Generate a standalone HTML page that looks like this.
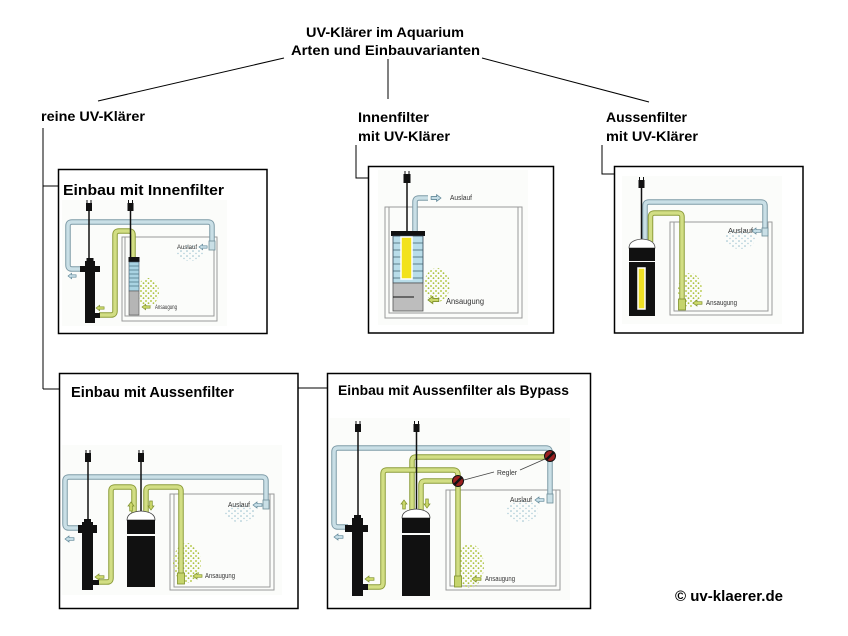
<!DOCTYPE html>
<html><head><meta charset="utf-8"><style>
html,body{margin:0;padding:0;background:#fff}
svg{display:block}
.t{font-family:"Liberation Sans",Arial,sans-serif;font-weight:bold;fill:#000}
.s{font-family:"Liberation Sans",Arial,sans-serif;fill:#333}
.bo{fill:none;stroke:#7e9ba7;stroke-width:5.5}
.bi{fill:none;stroke:#c9dfe6;stroke-width:3.5}
.go{fill:none;stroke:#8d9d3a;stroke-width:5.5}
.gi{fill:none;stroke:#d2de84;stroke-width:3.5}
.tk{fill:none;stroke:#9a9a9a;stroke-width:1}
.ba{fill:#c5dde6;stroke:#5d8596;stroke-width:.7}
.ga{fill:#cbd86a;stroke:#7d8f2a;stroke-width:.7}
.bn{fill:#c9dfe6;stroke:#6d8c98;stroke-width:.8}
.gn{fill:#c5d46c;stroke:#7d8f2a;stroke-width:.8}
.k{fill:#111}
.c{stroke:#111;stroke-width:1.5}
.bg{fill:#fbfcfa}
</style></head><body>
<svg width="848" height="636" viewBox="0 0 848 636" xmlns="http://www.w3.org/2000/svg">
<defs>
<path id="al" d="M0 0 L4 -3 L4 -1.3 L9 -1.3 L9 1.3 L4 1.3 L4 3 Z"/>
<pattern id="gd" width="5" height="5" patternUnits="userSpaceOnUse"><circle cx="1" cy="1" r="1" fill="#bccd55"/><circle cx="3.5" cy="3.2" r=".9" fill="#a9bf3f"/></pattern>
<pattern id="bd" width="6" height="5" patternUnits="userSpaceOnUse"><circle cx="1" cy="1" r=".8" fill="#94bccb"/><circle cx="4" cy="3.5" r=".7" fill="#a8c9d6"/></pattern>
<path id="p1b" d="M212 246 V226 Q212 222 208 222 H72 Q68 222 68 226 V265 Q68 269 72 269 H82"/>
<path id="p1g" d="M99 315 H111 Q115 315 115 311 V235 Q115 231 119 231 H129 Q133 231 133 235 V258"/>
<path id="p2b" d="M415 232 V202 Q415 198 419 198 H428"/>
<path id="p3b" d="M645 242 V206 Q645 202 649 202 H761 Q765 202 765 206 V230"/>
<path id="p3g" d="M650.5 242 V217 Q650.5 213 654.5 213 H678 Q682 213 682 217 V300"/>
<path id="p4b" d="M80 528 H69 Q65 528 65 524 V481 Q65 477 69 477 H262 Q266 477 266 481 V502"/>
<path id="p4g1" d="M99 582 H107 Q111 582 111 578 V491 Q111 487 115 487 H130 Q134 487 134 491 V513"/>
<path id="p4g2" d="M146 513 V491 Q146 487 150 487 H177 Q181 487 181 491 V575"/>
<path id="p5b" d="M348 527 H338 Q334 527 334 523 V452 Q334 448 338 448 H546 Q550 448 550 452 V496"/>
<path id="p5gA" d="M412 510 V461 Q412 457 416 457 H550"/>
<path id="p5gB" d="M365 587 H379 Q383 587 383 583 V474 Q383 470 387 470 H453 Q458 470 458 475 V578"/>
<path id="p5gC" d="M421 510 V485 Q421 481 425 481 H458"/>
</defs>

<!-- drawing backgrounds -->
<rect class="bg" x="62" y="200" width="165" height="126"/>
<rect class="bg" x="378" y="170" width="150" height="155"/>
<rect class="bg" x="622" y="176" width="160" height="148"/>
<rect class="bg" x="62" y="445" width="220" height="150"/>
<rect class="bg" x="330" y="418" width="240" height="182"/>

<!-- titles & connectors -->
<text class="t" x="306" y="37" font-size="14" textLength="158" lengthAdjust="spacingAndGlyphs">UV-Klärer im Aquarium</text>
<text class="t" x="291" y="55" font-size="14" textLength="189" lengthAdjust="spacingAndGlyphs">Arten und Einbauvarianten</text>
<g stroke="#000" stroke-width="1" fill="none">
<path d="M284 58 L98 101"/>
<path d="M388 59 V99"/>
<path d="M482 58 L649 102"/>
<path d="M43 128 V389 M43 186 H58 M43 389 H59"/>
<path d="M298 388 H327"/>
<path d="M356 145 V178 H368"/>
<path d="M602 145 V174 H614"/>
</g>
<text class="t" x="41" y="121" font-size="14" textLength="104" lengthAdjust="spacingAndGlyphs">reine UV-Klärer</text>
<text class="t" x="358" y="122" font-size="14" textLength="71" lengthAdjust="spacingAndGlyphs">Innenfilter</text>
<text class="t" x="358" y="141" font-size="14" textLength="92" lengthAdjust="spacingAndGlyphs">mit UV-Klärer</text>
<text class="t" x="606" y="122" font-size="14" textLength="81" lengthAdjust="spacingAndGlyphs">Aussenfilter</text>
<text class="t" x="606" y="141" font-size="14" textLength="92" lengthAdjust="spacingAndGlyphs">mit UV-Klärer</text>

<!-- boxes -->
<g fill="none" stroke="#000" stroke-width="1.5">
<rect x="58.5" y="169.5" width="208.5" height="164"/>
<rect x="368.5" y="166.5" width="185" height="166.5"/>
<rect x="614.5" y="166.5" width="188.5" height="166.5"/>
<rect x="59.5" y="373.5" width="238.5" height="235"/>
<rect x="327.5" y="373.5" width="263" height="235"/>
</g>
<text class="t" x="63" y="195" font-size="15" textLength="161" lengthAdjust="spacingAndGlyphs">Einbau mit Innenfilter</text>
<text class="t" x="71" y="397" font-size="14.5" textLength="163" lengthAdjust="spacingAndGlyphs">Einbau mit Aussenfilter</text>
<text class="t" x="338" y="395" font-size="14" textLength="231" lengthAdjust="spacingAndGlyphs">Einbau mit Aussenfilter als Bypass</text>
<text class="t" x="675" y="601" font-size="15" textLength="108" lengthAdjust="spacingAndGlyphs">© uv-klaerer.de</text>

<!-- ===== BOX 1 ===== -->
<rect class="tk" x="122" y="237" width="95" height="84"/>
<path class="tk" d="M125 237 V316 H214 V237"/>
<ellipse cx="148" cy="292" rx="11" ry="14" fill="url(#gd)"/>
<ellipse cx="190" cy="253" rx="14" ry="8" fill="url(#bd)"/>
<use href="#p1b" class="bo"/><use href="#p1b" class="bi"/>
<use href="#p1g" class="go"/><use href="#p1g" class="gi"/>
<rect class="bn" x="209" y="241" width="6" height="9"/>
<rect class="k" x="85" y="261" width="10" height="62"/>
<rect class="k" x="86.5" y="258" width="7" height="4"/>
<rect class="k" x="80" y="266" width="20" height="6"/>
<rect class="k" x="95" y="313" width="5" height="5"/>
<line class="c" x1="89" y1="211" x2="89" y2="259"/>
<rect class="k" x="86" y="203" width="6" height="8"/>
<path d="M87 200 v3 M91 200 v3" stroke="#111"/>
<line class="c" x1="130.5" y1="211" x2="130.5" y2="257"/>
<rect class="k" x="127.5" y="203" width="6" height="8"/>
<path d="M128.5 200 v3 M132.5 200 v3" stroke="#111"/>
<rect class="k" x="128.5" y="257" width="11" height="5"/>
<rect x="129" y="262" width="10" height="29" fill="#a9d3e2" stroke="#456" stroke-width=".6"/>
<path d="M129 266 H139 M129 270 H139 M129 274 H139 M129 278 H139 M129 282 H139 M129 286 H139" stroke="#4d7585" stroke-width=".8"/>
<rect x="129" y="291" width="10" height="24" fill="#b5b5b5" stroke="#555" stroke-width=".6"/>
<use href="#al" class="ba" transform="translate(199,247) scale(.9)"/>
<use href="#al" class="ba" transform="translate(68,276) scale(.9)"/>
<use href="#al" class="ga" transform="translate(142,307) scale(.9)"/>
<use href="#al" class="ga" transform="translate(96,308) scale(.9)"/>
<text class="s" x="177" y="249" font-size="6" textLength="20" lengthAdjust="spacingAndGlyphs">Auslauf</text>
<text class="s" x="155" y="309" font-size="6" textLength="22" lengthAdjust="spacingAndGlyphs">Ansaugung</text>

<!-- ===== BOX 2 ===== -->
<rect class="tk" x="385" y="207" width="137" height="111"/>
<path class="tk" d="M389 207 V313 H518 V207"/>
<ellipse cx="437" cy="285" rx="13" ry="17" fill="url(#gd)"/>
<use href="#p2b" class="bo"/><use href="#p2b" class="bi"/>
<line class="c" x1="407" y1="183" x2="407" y2="231"/>
<rect class="k" x="403.5" y="174" width="7" height="9"/>
<path d="M405 171 v3 M409 171 v3" stroke="#111"/>
<rect class="k" x="391" y="231" width="34" height="5"/>
<rect x="393" y="236" width="30" height="47" fill="#b9dde9" stroke="#345" stroke-width=".8"/>
<path d="M393 243 H423 M393 250 H423 M393 257 H423 M393 264 H423 M393 271 H423 M393 278 H423" stroke="#3f5f6b" stroke-width=".8"/>
<rect x="401" y="237" width="11" height="42" fill="#f2e21c" stroke="#fff" stroke-width="1.5"/>
<rect x="393" y="283" width="30" height="28" fill="#bdbdbd" stroke="#555" stroke-width=".8"/>
<path d="M393 297 H414" stroke="#111" stroke-width="1"/>
<use href="#al" class="ba" transform="translate(441,198) scale(-1.1,1.1)"/>
<use href="#al" class="ga" transform="translate(428,300) scale(1.2)"/>
<text class="s" x="450" y="200" font-size="7" textLength="22" lengthAdjust="spacingAndGlyphs">Auslauf</text>
<text class="s" x="446" y="304" font-size="8" textLength="38" lengthAdjust="spacingAndGlyphs">Ansaugung</text>

<!-- ===== BOX 3 ===== -->
<rect class="tk" x="670" y="222" width="102" height="93"/>
<path class="tk" d="M674 222 V311 H768 V222"/>
<ellipse cx="690" cy="290" rx="12" ry="17" fill="url(#gd)"/>
<ellipse cx="740" cy="239" rx="15" ry="10" fill="url(#bd)"/>
<use href="#p3b" class="bo"/><use href="#p3b" class="bi"/>
<use href="#p3g" class="go"/><use href="#p3g" class="gi"/>
<rect class="bn" x="762" y="228" width="6" height="8"/>
<rect class="gn" x="678.5" y="299" width="7" height="11"/>
<line class="c" x1="641.5" y1="188" x2="641.5" y2="242"/>
<rect class="k" x="638.5" y="180" width="6" height="8"/>
<path d="M639.5 177 v3 M643.5 177 v3" stroke="#111"/>
<path d="M629 248 Q629 240 642 239 Q655 240 655 248 Z" fill="#fff" stroke="#555" stroke-width=".8"/>
<rect class="k" x="629" y="248" width="26" height="13"/>
<rect class="k" x="629" y="262" width="26" height="54"/>
<rect x="638" y="268" width="7" height="41" fill="#efe025" stroke="#fff" stroke-width="1.5"/>
<use href="#al" class="ba" transform="translate(752,231)"/>
<use href="#al" class="ga" transform="translate(693,303)"/>
<text class="s" x="728" y="233" font-size="7" textLength="25" lengthAdjust="spacingAndGlyphs">Auslauf</text>
<text class="s" x="706" y="305" font-size="7" textLength="31" lengthAdjust="spacingAndGlyphs">Ansaugung</text>

<!-- ===== BOX 4 ===== -->
<rect class="tk" x="170" y="494" width="104" height="96"/>
<path class="tk" d="M174 494 V587 H270 V494"/>
<ellipse cx="187" cy="563" rx="14" ry="20" fill="url(#gd)"/>
<ellipse cx="240" cy="513" rx="15" ry="9" fill="url(#bd)"/>
<use href="#p4b" class="bo"/><use href="#p4b" class="bi"/>
<use href="#p4g1" class="go"/><use href="#p4g1" class="gi"/>
<use href="#p4g2" class="go"/><use href="#p4g2" class="gi"/>
<rect class="bn" x="263" y="500" width="6" height="9"/>
<rect class="gn" x="177.5" y="573" width="7" height="11"/>
<rect class="k" x="82" y="522" width="11" height="68"/>
<rect class="k" x="84" y="519" width="7" height="4"/>
<rect class="k" x="78" y="525" width="19" height="8"/>
<rect class="k" x="93" y="580" width="6" height="5"/>
<line class="c" x1="88" y1="462" x2="88" y2="520"/>
<rect class="k" x="85" y="453" width="6" height="9"/>
<path d="M86 450 v3 M90 450 v3" stroke="#111"/>
<line class="c" x1="141" y1="462" x2="141" y2="512"/>
<rect class="k" x="138" y="453" width="6" height="9"/>
<path d="M139 450 v3 M143 450 v3" stroke="#111"/>
<path d="M127 520 Q127 512 141 511 Q155 512 155 520 Z" fill="#fff" stroke="#444" stroke-width=".8"/>
<rect class="k" x="127" y="520" width="28" height="14"/>
<rect class="k" x="127" y="536" width="28" height="51"/>
<use href="#al" class="ga" transform="translate(131,502) rotate(90)"/>
<use href="#al" class="ga" transform="translate(151,510) rotate(-90)"/>
<use href="#al" class="ba" transform="translate(253,505)"/>
<use href="#al" class="ba" transform="translate(65,539)"/>
<use href="#al" class="ga" transform="translate(193,576)"/>
<use href="#al" class="ga" transform="translate(95,577)"/>
<text class="s" x="228" y="507" font-size="7" textLength="22" lengthAdjust="spacingAndGlyphs">Auslauf</text>
<text class="s" x="205" y="578" font-size="7" textLength="30" lengthAdjust="spacingAndGlyphs">Ansaugung</text>

<!-- ===== BOX 5 ===== -->
<rect class="tk" x="446" y="490" width="114" height="100"/>
<path class="tk" d="M450 490 V586 H556 V490"/>
<ellipse cx="470" cy="566" rx="14" ry="22" fill="url(#gd)"/>
<ellipse cx="522" cy="511" rx="16" ry="11" fill="url(#bd)"/>
<use href="#p5b" class="bo"/><use href="#p5b" class="bi"/>
<use href="#p5gA" class="go"/><use href="#p5gA" class="gi"/>
<use href="#p5gB" class="go"/><use href="#p5gB" class="gi"/>
<use href="#p5gC" class="go"/><use href="#p5gC" class="gi"/>
<rect class="bn" x="547" y="494" width="6" height="9"/>
<rect class="gn" x="454.5" y="576" width="7" height="11"/>
<g transform="translate(550,456)"><circle r="5.5" fill="#9b2020" stroke="#111" stroke-width="1"/><path d="M-3.5 3.5 L3.5 -3.5" stroke="#111" stroke-width="2.5"/></g>
<g transform="translate(458,481)"><circle r="5.5" fill="#9b2020" stroke="#111" stroke-width="1"/><path d="M-3.5 3.5 L3.5 -3.5" stroke="#111" stroke-width="2.5"/></g>
<path d="M464 480 L494 472 M520 470 L545 459" stroke="#444" stroke-width=".8" fill="none"/>
<text class="s" x="497" y="475" font-size="7" textLength="20" lengthAdjust="spacingAndGlyphs">Regler</text>
<rect class="k" x="352" y="518" width="11" height="78"/>
<rect class="k" x="354" y="515" width="7" height="4"/>
<rect class="k" x="345" y="525" width="23" height="7"/>
<rect class="k" x="363" y="584" width="5" height="6"/>
<line class="c" x1="358" y1="432" x2="358" y2="516"/>
<rect class="k" x="355" y="424" width="6" height="8"/>
<path d="M356 421 v3 M360 421 v3" stroke="#111"/>
<line class="c" x1="416.5" y1="432" x2="416.5" y2="510"/>
<rect class="k" x="413.5" y="424" width="6" height="8"/>
<path d="M414.5 421 v3 M418.5 421 v3" stroke="#111"/>
<path d="M402 518 Q402 510 416 509 Q430 510 430 518 Z" fill="#fff" stroke="#444" stroke-width=".8"/>
<rect class="k" x="402" y="518" width="28" height="15"/>
<rect class="k" x="402" y="535" width="28" height="61"/>
<use href="#al" class="ga" transform="translate(404,500) rotate(90)"/>
<use href="#al" class="ga" transform="translate(427,508) rotate(-90)"/>
<use href="#al" class="ba" transform="translate(535,500)"/>
<use href="#al" class="ba" transform="translate(334,537)"/>
<use href="#al" class="ga" transform="translate(472,579)"/>
<use href="#al" class="ga" transform="translate(365,579)"/>
<text class="s" x="510" y="502" font-size="7" textLength="22" lengthAdjust="spacingAndGlyphs">Auslauf</text>
<text class="s" x="485" y="581" font-size="7" textLength="30" lengthAdjust="spacingAndGlyphs">Ansaugung</text>
</svg>
</body></html>
